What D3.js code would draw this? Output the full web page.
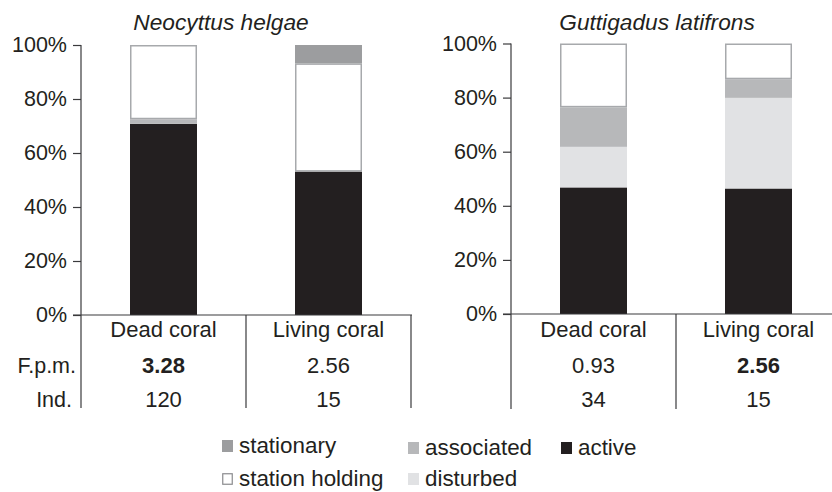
<!DOCTYPE html>
<html>
<head>
<meta charset="utf-8">
<script src="https://cdn.jsdelivr.net/npm/d3@7"></script>
<style>
  body { margin: 0; background: #fff; }
  svg { display: block; }
  text { font-family: "Liberation Sans", Arial, sans-serif; fill: #231f20; }
</style>
</head>
<body>
<svg id="chart" width="832" height="492"></svg>
<script>
// data
const categories = ["Dead coral", "Living coral"];
const species = ["Neocyttus helgae", "Guttigadus latifrons"];
const stackKeys = ["active", "disturbed", "associated", "station holding", "stationary"];
const yTicks = [0, 20, 40, 60, 80, 100];

// percent of observations per behaviour, in stackKeys order
const helgaeShares = [[70.8, 0, 1.7, 27.5, 0], [53.1, 0, 0, 40.1, 6.8]];
const latifronsShares = [[46.8, 15.0, 14.6, 23.6, 0], [46.4, 33.5, 6.9, 13.2, 0]];
const helgaeFpm = [3.28, 2.56];
const latifronsFpm = [0.93, 2.56];
const helgaeInd = [120, 15];
const latifronsInd = [34, 15];

const fills = {
  "active": "#231f20",
  "disturbed": "#e1e2e4",
  "associated": "#b7b8ba",
  "station holding": "#ffffff",
  "stationary": "#9c9d9f"
};
const lineCol = "#3a3a3c";
const fs = 22;

const svg = d3.select("#chart");

const panels = [
  {name: species[0], shares: helgaeShares, fpm: helgaeFpm, ind: helgaeInd,
   x0: 81, x1: 411, yTop: 45, yBot: 315, tableBot: 408, rowLabels: true, rightLine: true, titleShift: -25},
  {name: species[1], shares: latifronsShares, fpm: latifronsFpm, ind: latifronsInd,
   x0: 511, x1: 841, yTop: 43.5, yBot: 314, tableBot: 409, rowLabels: false, rightLine: false, titleShift: -19}
];

panels.forEach(p => {
  const g = svg.append("g");
  const x = d3.scaleBand().domain(categories).range([p.x0, p.x1]);
  const y = d3.scaleLinear().domain([0, 100]).range([p.yBot, p.yTop]);
  const barW = 67;

  const rows = categories.map((c, i) => {
    const r = {cat: c};
    stackKeys.forEach((k, j) => r[k] = p.shares[i][j]);
    return r;
  });
  const stacked = d3.stack().keys(stackKeys)(rows);

  stacked.forEach(layer => {
    const inset = layer.key === "station holding" ? 0.75 : 0;
    g.selectAll(null)
      .data(layer.filter(d => d[1] - d[0] > 0))
      .enter()
      .append("rect")
      .attr("x", d => x(d.data.cat) + (x.bandwidth() - barW) / 2 + inset)
      .attr("width", barW - 2 * inset)
      .attr("y", d => y(d[1]) + inset)
      .attr("height", d => y(d[0]) - y(d[1]) - 2 * inset)
      .style("fill", fills[layer.key])
      .style("stroke", inset ? "#a7a9ac" : "none")
      .style("stroke-width", 1.5);
  });

  // y axis
  const axis = d3.axisLeft(y).tickValues(yTicks).tickFormat(d => d + "%").tickSize(8).tickPadding(6);
  const ag = g.append("g").attr("transform", `translate(${p.x0},0)`).call(axis);
  ag.select(".domain").remove();
  ag.selectAll("line").attr("stroke", lineCol).attr("stroke-width", 1.2);
  ag.selectAll("text").style("font-size", "21.5px").attr("fill", "#231f20")
    .style("font-family", "'Liberation Sans', Arial, sans-serif");

  // axis line, baseline and table lines
  g.append("line").attr("x1", p.x0).attr("x2", p.x0).attr("y1", y(100)).attr("y2", p.tableBot)
    .attr("stroke", lineCol).attr("stroke-width", 1.2);
  g.append("line").attr("x1", p.x0 - 8).attr("x2", Math.min(p.x1 + 1, 832)).attr("y1", y(0)).attr("y2", y(0))
    .attr("stroke", lineCol).attr("stroke-width", 1.2);
  g.append("line").attr("x1", x(categories[1])).attr("x2", x(categories[1])).attr("y1", y(0)).attr("y2", p.tableBot)
    .attr("stroke", lineCol).attr("stroke-width", 1.2);
  if (p.rightLine) {
    g.append("line").attr("x1", p.x1).attr("x2", p.x1).attr("y1", y(0)).attr("y2", p.tableBot)
      .attr("stroke", lineCol).attr("stroke-width", 1.2);
  }

  // title
  g.append("text").attr("x", (p.x0 + p.x1) / 2 + p.titleShift).attr("y", 30)
    .attr("text-anchor", "middle").style("font-style", "italic").style("font-size", "22.7px")
    .text(p.name);

  const cx = c => x(c) + x.bandwidth() / 2;
  const maxFpm = d3.max(p.fpm);

  g.selectAll(null).data(categories).enter().append("text")
    .attr("x", cx).attr("y", 337).attr("text-anchor", "middle").style("font-size", fs + "px")
    .text(d => d);
  g.selectAll(null).data(categories).enter().append("text")
    .attr("x", cx).attr("y", 373).attr("text-anchor", "middle").style("font-size", fs + "px")
    .style("font-weight", (d, i) => p.fpm[i] === maxFpm ? "bold" : "normal")
    .text((d, i) => p.fpm[i].toFixed(2));
  g.selectAll(null).data(categories).enter().append("text")
    .attr("x", cx).attr("y", 407).attr("text-anchor", "middle").style("font-size", fs + "px")
    .text((d, i) => p.ind[i]);

  if (p.rowLabels) {
    g.append("text").attr("x", 76).attr("y", 373).attr("text-anchor", "end").style("font-size", "21.5px").text("F.p.m.");
    g.append("text").attr("x", 72).attr("y", 407).attr("text-anchor", "end").style("font-size", "21.5px").text("Ind.");
  }
});

// legend
const legendItems = [
  {key: "stationary", x: 222, y: 453},
  {key: "station holding", x: 222, y: 486},
  {key: "associated", x: 408, y: 455},
  {key: "disturbed", x: 408, y: 486},
  {key: "active", x: 561, y: 455}
];
const lg = svg.append("g");
legendItems.forEach(it => {
  const boxed = it.key === "station holding";
  lg.append("rect")
    .attr("x", it.x + (boxed ? 0.75 : 0)).attr("y", it.y - 13 + (boxed ? 0.75 : 0))
    .attr("width", boxed ? 9.5 : 11).attr("height", boxed ? 10.5 : 12)
    .style("fill", fills[it.key])
    .style("stroke", boxed ? "#8a8b8e" : "none").style("stroke-width", 1.2);
  lg.append("text").attr("x", it.x + 17).attr("y", it.y).style("font-size", "22.4px").text(it.key);
});
</script>
</body>
</html>
